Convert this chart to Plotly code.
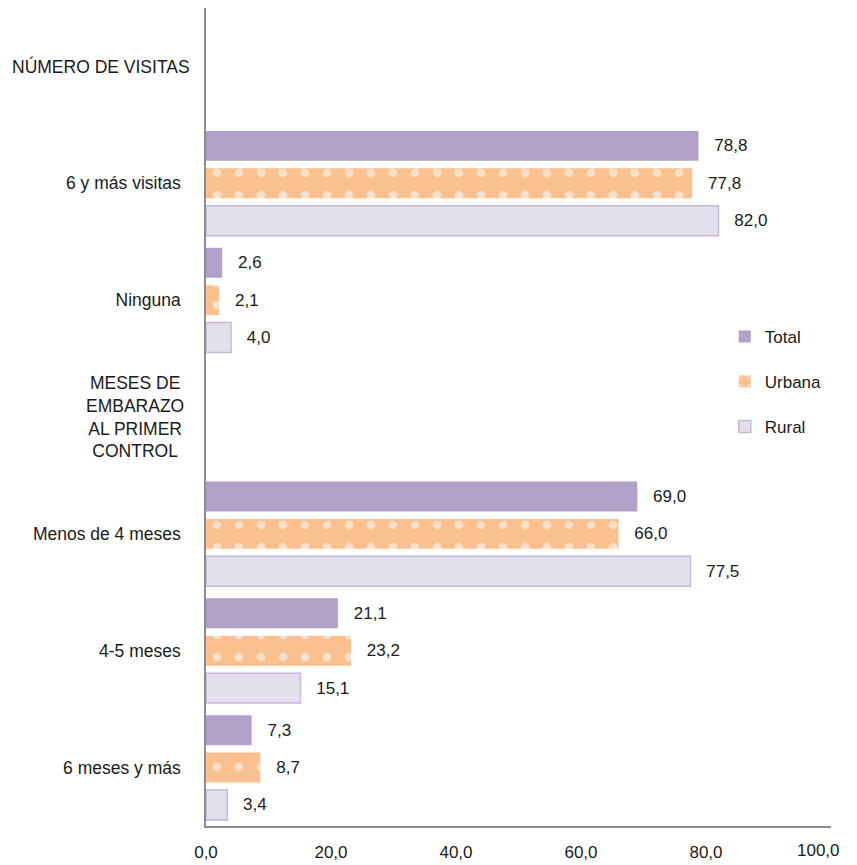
import plotly.graph_objects as go

categories = ["NÚMERO DE VISITAS", "6 y más visitas", "Ninguna",
              "MESES DE EMBARAZO AL PRIMER CONTROL",
              "Menos de 4 meses", "4-5 meses", "6 meses y más"]
tick_text = ["", "6 y más visitas", "Ninguna", "",
             "Menos de 4 meses", "4-5 meses", "6 meses y más"]
header_labels = ["NÚMERO DE VISITAS", "MESES DE<br>EMBARAZO<br>AL PRIMER<br>CONTROL"]
header_categories = ["NÚMERO DE VISITAS", "MESES DE EMBARAZO AL PRIMER CONTROL"]

total = [None, 78.8, 2.6, None, 69.0, 21.1, 7.3]
urbana = [None, 77.8, 2.1, None, 66.0, 23.2, 8.7]
rural = [None, 82.0, 4.0, None, 77.5, 15.1, 3.4]

x_ticks = [0, 20, 40, 60, 80, 100]
x_tick_labels = ["0,0", "20,0", "40,0", "60,0", "80,0", "100,0"]

FONT = "Liberation Sans, Arial, sans-serif"
TXT = "#1a1a1a"
pre = "\u00a0\u00a0\u2009"

# last tick label is drawn separately, nudged inward like in the original
x_tick_text = x_tick_labels[:-1] + [""]

fig = go.Figure()
fig.add_trace(go.Bar(
    name="Total", y=categories, x=total, orientation="h",
    marker=dict(color="#b1a0c7", line=dict(width=0)),
    texttemplate=pre + "%{x:.1f}", textposition="outside",
    legendgroup="t",
))
fig.add_trace(go.Bar(
    name="Urbana", y=categories, x=urbana, orientation="h",
    marker=dict(color="#fac090", line=dict(width=0),
                pattern=dict(shape=".", fgcolor="white", bgcolor="#fac090",
                             size=22, solidity=0.12, fillmode="overlay")),
    texttemplate=pre + "%{x:.1f}", textposition="outside",
    legendgroup="u",
))
fig.add_trace(go.Bar(
    name="Rural", y=categories, x=rural, orientation="h",
    marker=dict(color="#e4dfec", line=dict(width=1.5, color="#c5b8d8")),
    texttemplate=pre + "%{x:.1f}", textposition="outside",
    legendgroup="r",
))

fig.update_traces(textfont=dict(size=17, color=TXT, family=FONT),
                  cliponaxis=False, constraintext="none")

for lab, cat, shift in zip(header_labels, header_categories, [-14, -20]):
    fig.add_annotation(
        text=lab, xref="paper", yref="y", x=0, y=cat,
        xanchor="right", xshift=shift, align="center", showarrow=False,
        font=dict(size=17.5, color=TXT, family=FONT),
    )

fig.add_annotation(
    text=x_tick_labels[-1], xref="x", yref="paper", x=x_ticks[-1], y=0,
    xanchor="center", yanchor="top", xshift=-13, yshift=-13,
    showarrow=False, font=dict(size=17, color=TXT, family=FONT),
)

# page body has an 8px default margin; figure offset accounted for in margins
fig.update_layout(
    width=857, height=857,
    margin=dict(l=198, r=34, t=0, b=39),
    paper_bgcolor="white", plot_bgcolor="white",
    separators=",.",
    barmode="group", bargap=0.04, bargroupgap=0.2,
    font=dict(family=FONT, size=17, color=TXT),
    legend=dict(x=0.83, xanchor="left", y=0.62, yanchor="top",
                tracegroupgap=20, font=dict(size=17, color=TXT),
                bgcolor="rgba(0,0,0,0)"),
    xaxis=dict(range=[0, 100], tickvals=x_ticks, ticktext=x_tick_text,
               showgrid=False, zeroline=False, showline=True,
               linecolor="#8c8c8c", linewidth=1.5, ticks="",
               automargin=False,
               ticklabelstandoff=10, tickfont=dict(size=17, color=TXT)),
    yaxis=dict(type="category", categoryorder="array", categoryarray=categories,
               tickvals=categories, ticktext=tick_text,
               autorange="reversed", showgrid=False, zeroline=False,
               showline=True, linecolor="#8c8c8c", linewidth=1.5, ticks="",
               automargin=False,
               ticklabelstandoff=20, tickfont=dict(size=17.5, color=TXT)),
)

fig.write_html("out.html")
